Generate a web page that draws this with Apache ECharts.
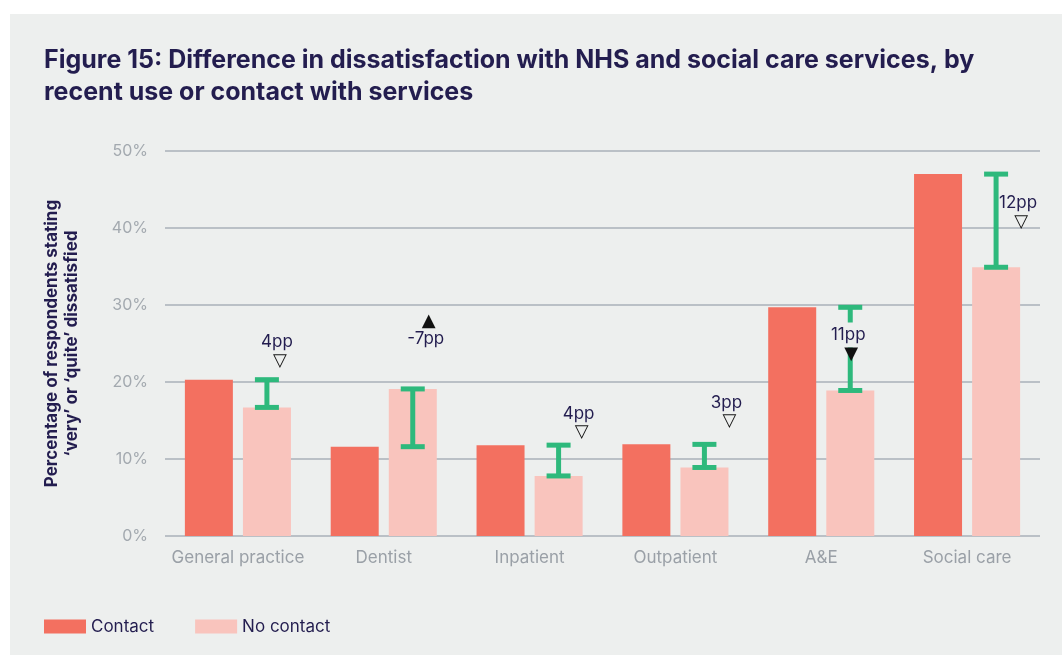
<!DOCTYPE html>
<html>
<head>
<meta charset="utf-8">
<script src="https://cdn.jsdelivr.net/npm/echarts@6/dist/echarts.min.js"></script>
<style>
  html, body { margin: 0; padding: 0; background: #ffffff; }
  #main { position: absolute; left: 10px; top: 14px; width: 1052px; height: 641px; background: #edefee; }
</style>
</head>
<body>
<div id="main"></div>
<script>
// data (percent)
var categories = ['General practice', 'Dentist', 'Inpatient', 'Outpatient', 'A&E', 'Social care'];
var contact = [20.3, 11.6, 11.8, 11.9, 29.7, 47.0];
var noContact = [16.7, 19.1, 7.8, 8.9, 18.9, 34.9];
var diffLabels = ['4pp', '-7pp', '4pp', '3pp', '11pp', '12pp'];
var diffMarks = ['▽', '▲', '▽', '▽', '▼', '▽'];
var yTicks = [0, 10, 20, 30, 40, 50];

// label placement: [dx px from no-contact bar, y in % for text centre]
var labelPos = [[10, 25.2], [13, 25.6], [20, 15.9], [22, 17.3], [-2, 26.1], [22, 43.2]];

var navy = '#231d4f';
var bg = '#edefee';
var green = '#2eb97c';
var barW = 48;
var barOffset = 29;

var chartDom = document.getElementById('main');
var myChart = echarts.init(chartDom);

var option = {
    backgroundColor: bg,
    textStyle: { fontFamily: 'Inter' },
    title: {
        text: 'Figure 15: Difference in dissatisfaction with NHS and social care services, by\nrecent use or contact with services',
        left: 29,
        top: 25,
        textStyle: { fontFamily: 'Inter', fontSize: 25, fontWeight: 'bold', color: navy, lineHeight: 32 }
    },
    legend: {
        left: 29,
        top: 599,
        itemWidth: 42,
        itemHeight: 14,
        itemGap: 41,
        icon: 'rect',
        textStyle: { fontSize: 17, color: navy },
        data: ['Contact', 'No contact']
    },
    grid: { left: 155, right: 22, top: 137, bottom: 119 },
    xAxis: {
        type: 'category',
        data: categories,
        axisLine: { show: false },
        axisTick: { show: false },
        axisLabel: { color: '#9aa0a7', fontSize: 17, margin: 13, interval: 0 }
    },
    yAxis: {
        type: 'value',
        min: 0,
        max: 50,
        interval: 10,
        name: 'Percentage of respondents stating\n‘very’ or ‘quite’ dissatisfied',
        nameLocation: 'middle',
        nameGap: 83,
        nameTextStyle: { fontSize: 17, fontWeight: 'bold', color: navy, lineHeight: 20 },
        axisLabel: {
            color: '#a3a9af', fontSize: 16, margin: 17,
            formatter: function (v) { return yTicks.indexOf(v) >= 0 ? v + '%' : ''; }
        },
        splitLine: { lineStyle: { color: '#a9b0b8', width: 1.5 } }
    },
    series: [
        {
            name: 'Contact',
            type: 'bar',
            barWidth: barW,
            barGap: '21%',
            itemStyle: { color: '#f37060' },
            data: contact
        },
        {
            name: 'No contact',
            type: 'bar',
            barWidth: barW,
            itemStyle: { color: '#f9c4bd' },
            data: noContact
        },
        {
            // range between contact and no contact
            type: 'custom',
            z: 5,
            data: categories.map(function (c, i) { return [i, contact[i], noContact[i]]; }),
            renderItem: function (params, api) {
                var i = api.value(0);
                var top = api.coord([i, Math.max(api.value(1), api.value(2))]);
                var bot = api.coord([i, Math.min(api.value(1), api.value(2))]);
                var x = top[0] + barOffset;
                var st = { stroke: green, lineWidth: 5 };
                return {
                    type: 'group',
                    children: [
                        { type: 'line', shape: { x1: x, y1: top[1], x2: x, y2: bot[1] }, style: st },
                        { type: 'line', shape: { x1: x - 12, y1: top[1], x2: x + 12, y2: top[1] }, style: st },
                        { type: 'line', shape: { x1: x - 12, y1: bot[1], x2: x + 12, y2: bot[1] }, style: st }
                    ]
                };
            }
        },
        {
            type: 'custom',
            z: 10,
            data: categories.map(function (c, i) { return [i, labelPos[i][1]]; }),
            renderItem: function (params, api) {
                var i = params.dataIndex;
                var p = api.coord([api.value(0), api.value(1)]);
                var x = p[0] + barOffset + labelPos[i][0];
                var up = diffMarks[i] === '▲';
                var masked = i === 4;
                return {
                    type: 'group',
                    children: [
                        {
                            type: 'text',
                            x: x, y: p[1],
                            style: {
                                text: diffLabels[i],
                                fontFamily: 'Inter', fontSize: 17, fill: navy,
                                align: 'center', verticalAlign: 'middle',
                                backgroundColor: masked ? bg : null,
                                padding: masked ? [4, 0, 4, 0] : 0
                            }
                        },
                        {
                            type: 'text',
                            x: x + 3, y: p[1] + (up ? -18 : 19),
                            style: {
                                text: diffMarks[i],
                                fontFamily: 'DejaVu Sans', fontSize: 18, fill: '#111111',
                                align: 'center', verticalAlign: 'middle'
                            }
                        }
                    ]
                };
            }
        }
    ]
};

myChart.setOption(option);
</script>
</body>
</html>
